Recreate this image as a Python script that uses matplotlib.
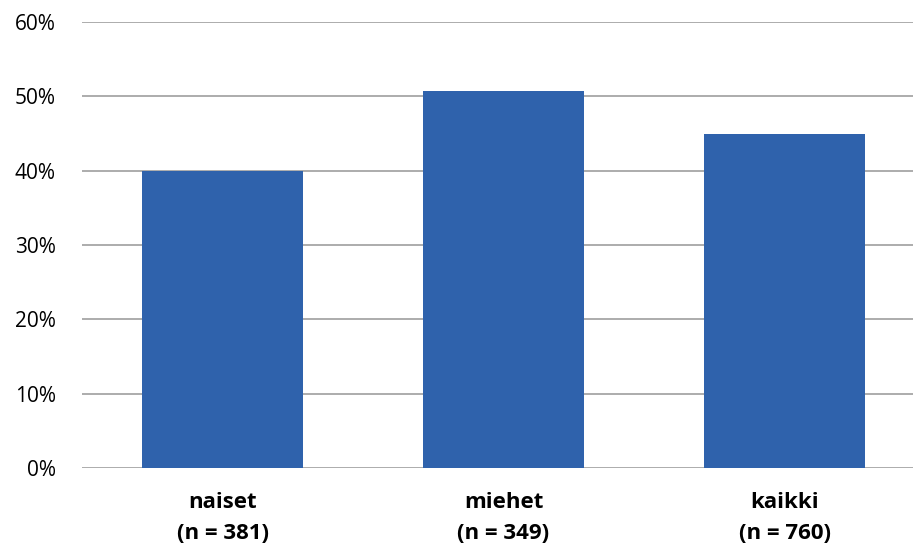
import numpy as np
import matplotlib.pyplot as plt
from matplotlib.ticker import PercentFormatter

# share of respondents by group
groups = ["naiset", "miehet", "kaikki"]
counts = [381, 349, 760]
shares = [39.9, 50.7, 45.0]

plt.rcParams["font.family"] = ["Open Sans", "DejaVu Sans"]

fig = plt.figure(figsize=(9.13, 5.5), dpi=100)
ax = fig.add_axes([82 / 913, (550 - 468) / 550, 1 - 82 / 913, 446 / 550])

x = np.arange(len(groups))
ax.bar(x, shares, width=0.57, color="#2F62AC", zorder=3)

ax.set_ylim(0, 60)
ax.set_xlim(-0.5, 2.457)
ax.set_yticks(np.arange(0, 61, 10))
ax.yaxis.set_major_formatter(PercentFormatter(decimals=0))
ax.grid(axis="y", color="#A6A6A6", linewidth=1.3, zorder=0)

ax.set_xticks(x)
ax.set_xticklabels([f"{g}\n(n = {n})" for g, n in zip(groups, counts)],
                   fontweight="bold", fontsize=16, linespacing=1.65)
ax.tick_params(axis="x", length=0, pad=17)
ax.tick_params(axis="y", length=0, pad=19, labelsize=15)

for s in ax.spines.values():
    s.set_visible(False)

fig.savefig("out.png", dpi=100)
